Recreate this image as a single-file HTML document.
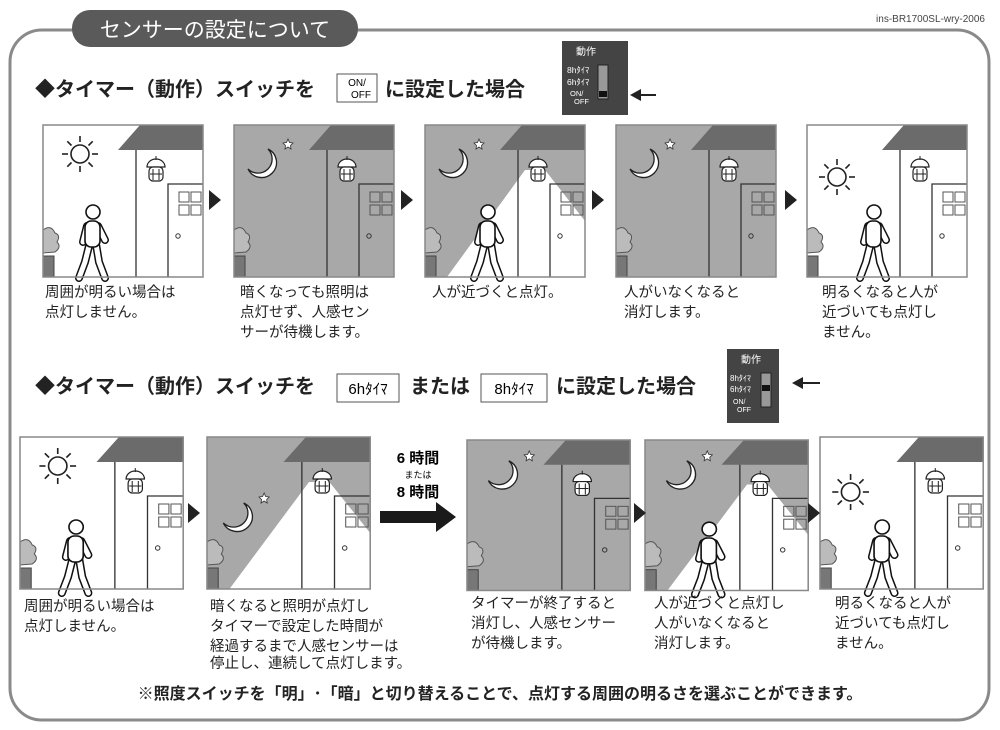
<!DOCTYPE html>
<html><head><meta charset="utf-8"><style>
html,body{margin:0;padding:0;background:#fff;}
svg{display:block;font-family:"Liberation Sans","Noto Sans CJK JP",sans-serif;}
.cap{font-size:14.5px;fill:#222;}
.h{font-size:20px;font-weight:bold;fill:#222;}
</style></head><body>
<svg width="1000" height="730" viewBox="0 0 1000 730" xmlns="http://www.w3.org/2000/svg">
<defs>
<symbol id="bg" viewBox="0 0 160 152" width="160" height="152" overflow="visible"><rect x="0" y="0" width="160" height="152" fill="currentColor"/></symbol>
<symbol id="beam" viewBox="0 0 160 152" width="160" height="152" overflow="visible"><polygon points="100,45 120,45 160,96 160,152 22,152" fill="#fff"/></symbol>
<symbol id="house" viewBox="0 0 160 152" width="160" height="152" overflow="visible">
<polygon points="75,25 97,0 160,0 160,25" fill="#6b6b6b"/>
<line x1="93" y1="25" x2="93" y2="152" stroke="#333" stroke-width="1.3"/>
<polyline points="125,152 125,59 160,59" fill="none" stroke="#333" stroke-width="1.3"/>
<g fill="none" stroke="#555" stroke-width="1"><rect x="136" y="67" width="10" height="10"/><rect x="148" y="67" width="10" height="10"/><rect x="136" y="80" width="10" height="10"/><rect x="148" y="80" width="10" height="10"/></g>
<circle cx="135" cy="111" r="2.2" fill="none" stroke="#333"/>
<g stroke="#222" stroke-width="1.2" fill="#fff"><path d="M104,42 A9,8 0 0 1 122,42 Z"/><rect x="106" y="42" width="14" height="14" rx="4"/></g>
<g stroke="#222" stroke-width="1"><line x1="110" y1="44" x2="110" y2="55"/><line x1="116" y1="44" x2="116" y2="55"/><line x1="107" y1="49" x2="119" y2="49"/><line x1="113" y1="31" x2="113" y2="35"/></g>
<path d="M0,105 q8,-6 12,3 q6,2 2,9 q5,5 -2,10 L0,128 Z" fill="#bbb" stroke="#555" stroke-width="1"/>
<rect x="0" y="131" width="11" height="21" fill="#777" stroke="#444" stroke-width="1"/>
</symbol>
<symbol id="frame" viewBox="0 0 160 152" width="160" height="152" overflow="visible"><rect x="0" y="0" width="160" height="152" fill="none" stroke="#888" stroke-width="1.5"/></symbol>
<symbol id="sun" viewBox="-20 -20 40 40" width="40" height="40" overflow="visible"><circle r="9" fill="#fff" stroke="#222" stroke-width="1.6"/><g stroke="#222" stroke-width="1.6"><line x1="0" y1="-12" x2="0" y2="-18"/><line x1="0" y1="12" x2="0" y2="18"/><line x1="-12" y1="0" x2="-18" y2="0"/><line x1="12" y1="0" x2="18" y2="0"/><line x1="8.5" y1="8.5" x2="12.7" y2="12.7"/><line x1="-8.5" y1="8.5" x2="-12.7" y2="12.7"/><line x1="8.5" y1="-8.5" x2="12.7" y2="-12.7"/><line x1="-8.5" y1="-8.5" x2="-12.7" y2="-12.7"/></g></symbol>
<symbol id="moon" viewBox="-20 -20 40 40" width="40" height="40" overflow="visible"><path d="M6,-14 A15,15 0 1 1 -14,6 A12,12 0 0 0 6,-14 Z" fill="#fff" stroke="#222" stroke-width="1.3"/><polygon points="26,-24 27.5,-20.5 31,-20 28.5,-17.5 29,-14 26,-16 23,-14 23.5,-17.5 21,-20 24.5,-20.5" fill="#fff" stroke="#333" stroke-width="0.8"/></symbol>
<symbol id="man" viewBox="-25 -10 50 80" width="50" height="80" overflow="visible">
<g stroke="#111" stroke-width="8" stroke-linecap="round" stroke-linejoin="round" fill="none"><path d="M-3,30 L-8,50 L-14,66 M3,32 L6,50 L12,66"/><path d="M-6,14 L-10,30 M5,14 L12,28"/></g>
<g stroke="#fff" stroke-width="5" stroke-linecap="round" stroke-linejoin="round" fill="none"><path d="M-3,30 L-8,50 L-14,66 M3,32 L6,50 L12,66"/><path d="M-6,14 L-10,30 M5,14 L12,28"/></g>
<rect x="-8" y="9" width="15" height="26" rx="6" fill="#fff" stroke="#111" stroke-width="1.6"/>
<circle cx="0" cy="0" r="7" fill="#fff" stroke="#111" stroke-width="1.6"/>
</symbol>
<symbol id="tri" viewBox="0 0 12 20" width="12" height="20"><polygon points="0,0 12,10 0,20" fill="#222"/></symbol>
</defs>

<rect x="10" y="30" width="979" height="690" rx="32" fill="none" stroke="#8a8a8a" stroke-width="3"/>
<rect x="72" y="10" width="286" height="37" rx="18" fill="#5a5a5a"/>
<text x="215" y="37" text-anchor="middle" font-size="21" fill="#fff">センサーの設定について</text>
<text x="985" y="22" text-anchor="end" font-size="10" fill="#444">ins-BR1700SL-wry-2006</text>

<!-- heading 1 -->
<text x="35" y="96" class="h">◆タイマー（動作）スイッチを</text>
<rect x="337" y="74" width="40" height="28" fill="#fff" stroke="#555"/>
<text x="357" y="86" text-anchor="middle" font-size="10">ON/</text>
<text x="361" y="98" text-anchor="middle" font-size="10">OFF</text>
<text x="385" y="96" class="h">に設定した場合</text>
<g transform="translate(562,41)">
<rect width="66" height="74" fill="#444"/><text x="24" y="14" text-anchor="middle" font-size="10" fill="#fff">動作</text>
<text x="5" y="32" font-size="8.5" fill="#fff">8hﾀｲﾏ</text><text x="5" y="44" font-size="8.5" fill="#fff">6hﾀｲﾏ</text>
<text x="8" y="55" font-size="7.5" fill="#fff">ON/</text><text x="12" y="63" font-size="7.5" fill="#fff">OFF</text>
<rect x="36" y="24" width="10" height="34" fill="#999" stroke="#222"/><rect x="37" y="50" width="8" height="6" fill="#111"/>
</g>
<g stroke="#222" stroke-width="2"><line x1="636" y1="95" x2="656" y2="95"/></g><polygon points="630,95 641,89 641,101" fill="#222"/>

<!-- row 1 -->
<g transform="translate(43,125)"><use href="#bg" color="#fff"/><use href="#house"/><use href="#sun" x="17" y="9"/><use href="#man" x="25" y="77"/><use href="#frame"/></g>
<g transform="translate(234,125)"><use href="#bg" color="#a8a8a8"/><use href="#house"/><use href="#moon" x="8" y="18"/><use href="#frame"/></g>
<g transform="translate(425,125)"><use href="#bg" color="#a8a8a8"/><use href="#beam"/><use href="#house"/><use href="#moon" x="8" y="18"/><use href="#man" x="38" y="77"/><use href="#frame"/></g>
<g transform="translate(616,125)"><use href="#bg" color="#a8a8a8"/><use href="#house"/><use href="#moon" x="8" y="18"/><use href="#frame"/></g>
<g transform="translate(807,125)"><use href="#bg" color="#fff"/><use href="#house"/><use href="#sun" x="10" y="32"/><use href="#man" x="42" y="77"/><use href="#frame"/></g>
<use href="#tri" x="209" y="190"/><use href="#tri" x="401" y="190"/><use href="#tri" x="592" y="190"/><use href="#tri" x="785" y="190"/>

<g class="cap">
<text x="45" y="297">周囲が明るい場合は</text><text x="45" y="317">点灯しません。</text>
<text x="240" y="297">暗くなっても照明は</text><text x="240" y="317">点灯せず、人感セン</text><text x="240" y="337">サーが待機します。</text>
<text x="432" y="297">人が近づくと点灯。</text>
<text x="624" y="297">人がいなくなると</text><text x="624" y="317">消灯します。</text>
<text x="822" y="297">明るくなると人が</text><text x="822" y="317">近づいても点灯し</text><text x="822" y="337">ません。</text>
</g>

<!-- heading 2 -->
<text x="35" y="393" class="h">◆タイマー（動作）スイッチを</text>
<rect x="337" y="374" width="62" height="28" fill="#fff" stroke="#555"/><text x="368" y="394" text-anchor="middle" font-size="15">6hﾀｲﾏ</text>
<text x="410" y="393" class="h">または</text>
<rect x="481" y="374" width="66" height="28" fill="#fff" stroke="#555"/><text x="514" y="394" text-anchor="middle" font-size="15">8hﾀｲﾏ</text>
<text x="556" y="393" class="h">に設定した場合</text>
<g transform="translate(727,349)">
<rect width="52" height="74" fill="#444"/><text x="24" y="14" text-anchor="middle" font-size="10" fill="#fff">動作</text>
<text x="3" y="32" font-size="8" fill="#fff">8hﾀｲﾏ</text><text x="3" y="43" font-size="8" fill="#fff">6hﾀｲﾏ</text>
<text x="6" y="55" font-size="7" fill="#fff">ON/</text><text x="10" y="63" font-size="7" fill="#fff">OFF</text>
<rect x="34" y="24" width="10" height="34" fill="#999" stroke="#222"/><rect x="35" y="36" width="8" height="6" fill="#111"/>
</g>
<line x1="798" y1="383" x2="820" y2="383" stroke="#222" stroke-width="2"/><polygon points="792,383 803,377 803,389" fill="#222"/>

<!-- row 2 -->
<g transform="translate(20,437) scale(1.02,1)"><use href="#bg" color="#fff"/><use href="#house"/><use href="#sun" x="17" y="9"/><use href="#man" x="30" y="80"/><use href="#frame"/></g>
<g transform="translate(207,437) scale(1.02,1)"><use href="#bg" color="#a8a8a8"/><use href="#beam"/><use href="#house"/><use href="#moon" x="10" y="60"/><use href="#frame"/></g>
<g transform="translate(467,440) scale(1.02,0.99)"><use href="#bg" color="#a8a8a8"/><use href="#house"/><use href="#moon" x="15" y="15"/><use href="#frame"/></g>
<g transform="translate(645,440) scale(1.02,0.99)"><use href="#bg" color="#a8a8a8"/><use href="#beam"/><use href="#house"/><use href="#moon" x="15" y="15"/><use href="#man" x="38" y="80"/><use href="#frame"/></g>
<g transform="translate(820,437) scale(1.02,1)"><use href="#bg" color="#fff"/><use href="#house"/><use href="#sun" x="10" y="35"/><use href="#man" x="36" y="80"/><use href="#frame"/></g>
<use href="#tri" x="188" y="503"/><use href="#tri" x="634" y="503"/><use href="#tri" x="808" y="503"/>

<text x="418" y="463" text-anchor="middle" font-size="15" font-weight="bold">6 時間</text>
<text x="418" y="478" text-anchor="middle" font-size="9">または</text>
<text x="418" y="497" text-anchor="middle" font-size="15" font-weight="bold">8 時間</text>
<polygon points="380,511 436,511 436,502 456,517 436,532 436,523 380,523" fill="#1a1a1a"/>

<g class="cap">
<text x="24" y="611">周囲が明るい場合は</text><text x="24" y="631">点灯しません。</text>
<text x="210" y="611">暗くなると照明が点灯し</text><text x="210" y="631">タイマーで設定した時間が</text><text x="210" y="651">経過するまで人感センサーは</text><text x="210" y="668">停止し、連続して点灯します。</text>
<text x="471" y="608">タイマーが終了すると</text><text x="471" y="628">消灯し、人感センサー</text><text x="471" y="648">が待機します。</text>
<text x="654" y="608">人が近づくと点灯し</text><text x="654" y="628">人がいなくなると</text><text x="654" y="648">消灯します。</text>
<text x="835" y="608">明るくなると人が</text><text x="835" y="628">近づいても点灯し</text><text x="835" y="648">ません。</text>
</g>

<text x="500" y="699" text-anchor="middle" font-size="16" font-weight="bold" fill="#222">※照度スイッチを「明」･「暗」と切り替えることで、点灯する周囲の明るさを選ぶことができます。</text>
</svg>
</body></html>
